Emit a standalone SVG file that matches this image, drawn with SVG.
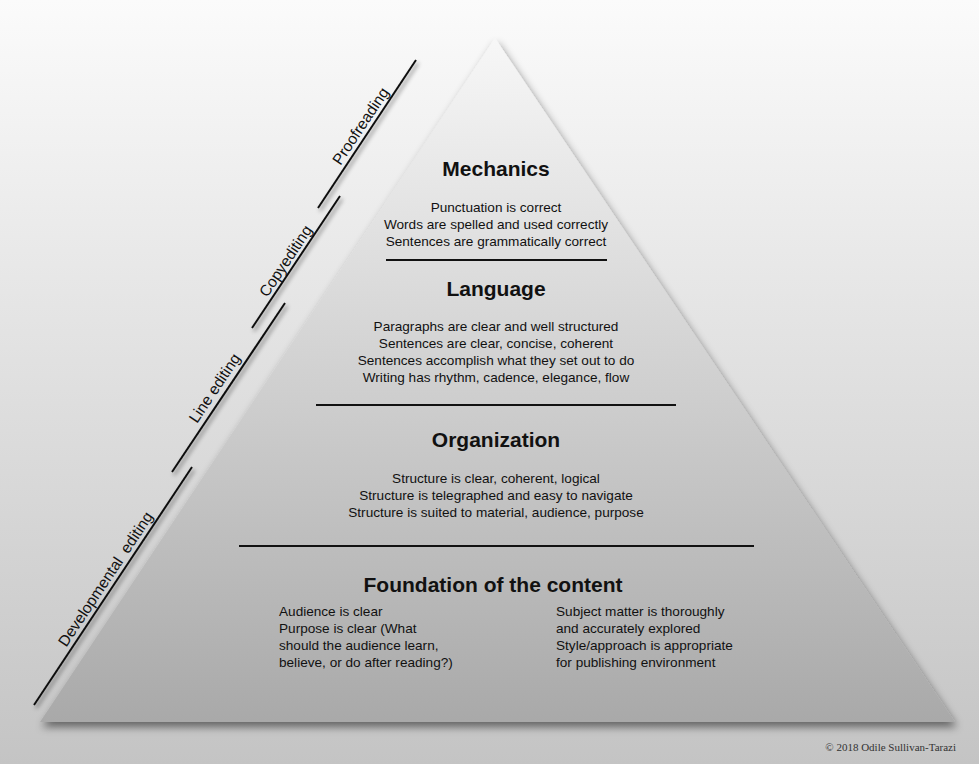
<svg xmlns="http://www.w3.org/2000/svg" width="979" height="764" viewBox="0 0 979 764">
<defs>
<linearGradient id="bg" x1="0" y1="0" x2="0" y2="1"><stop offset="0" stop-color="#fbfbfb"/><stop offset="1" stop-color="#c4c4c4"/></linearGradient>
<linearGradient id="py" x1="0" y1="0" x2="0" y2="1"><stop offset="0" stop-color="#f7f7f7"/><stop offset="1" stop-color="#a9a9a9"/></linearGradient>
<filter id="sh" x="-10%" y="-10%" width="120%" height="120%"><feGaussianBlur in="SourceAlpha" stdDeviation="4"/><feOffset dx="2" dy="5"/><feComponentTransfer><feFuncA type="linear" slope="0.5"/></feComponentTransfer><feMerge><feMergeNode/><feMergeNode in="SourceGraphic"/></feMerge></filter>
<filter id="ls" x="-20%" y="-20%" width="140%" height="140%"><feGaussianBlur in="SourceAlpha" stdDeviation="2"/><feOffset dx="2" dy="3"/><feComponentTransfer><feFuncA type="linear" slope="0.5"/></feComponentTransfer><feMerge><feMergeNode/><feMergeNode in="SourceGraphic"/></feMerge></filter>
</defs>
<style>
text{font-family:"Liberation Sans",Arial,sans-serif;fill:#111}
.h{font-size:21px;font-weight:bold;text-anchor:middle}
.b{font-size:13.6px;text-anchor:middle}
.l{font-size:13.6px}
.r{font-size:15.5px;text-anchor:middle}
.sep{stroke:#111;stroke-width:2}
.ed{stroke:#111;stroke-width:2}
</style>
<rect width="979" height="764" fill="url(#bg)"/>
<g id="pyramid"><polygon points="495,38 955,722 40,722" fill="url(#py)" filter="url(#sh)"/></g>
<g id="connectors">
<line class="sep" x1="386" y1="260" x2="607" y2="260"/>
<line class="sep" x1="316" y1="405" x2="676" y2="405"/>
<line class="sep" x1="239" y1="546" x2="754" y2="546"/>
<g filter="url(#ls)">
<line class="ed" x1="34" y1="705" x2="192" y2="467"/>
<line class="ed" x1="172" y1="472" x2="285" y2="303"/>
<line class="ed" x1="252" y1="328" x2="340" y2="196"/>
<line class="ed" x1="318" y1="208" x2="416" y2="60"/>
</g>
</g>
<g id="mechanics">
<text class="h" x="496" y="176">Mechanics</text>
<text class="b" x="496" y="212">Punctuation is correct</text>
<text class="b" x="496" y="229">Words are spelled and used correctly</text>
<text class="b" x="496" y="246">Sentences are grammatically correct</text>
</g>
<g id="language">
<text class="h" x="496" y="296">Language</text>
<text class="b" x="496" y="331">Paragraphs are clear and well structured</text>
<text class="b" x="496" y="348">Sentences are clear, concise, coherent</text>
<text class="b" x="496" y="365">Sentences accomplish what they set out to do</text>
<text class="b" x="496" y="382">Writing has rhythm, cadence, elegance, flow</text>
</g>
<g id="organization">
<text class="h" x="496" y="447">Organization</text>
<text class="b" x="496" y="483">Structure is clear, coherent, logical</text>
<text class="b" x="496" y="500">Structure is telegraphed and easy to navigate</text>
<text class="b" x="496" y="517">Structure is suited to material, audience, purpose</text>
</g>
<g id="foundation">
<text class="h" x="493" y="592">Foundation of the content</text>
<text class="l" x="279" y="616">Audience is clear</text>
<text class="l" x="279" y="633">Purpose is clear (What</text>
<text class="l" x="279" y="650">should the audience learn,</text>
<text class="l" x="279" y="667">believe, or do after reading?)</text>
<text class="l" x="556" y="616">Subject matter is thoroughly</text>
<text class="l" x="556" y="633">and accurately explored</text>
<text class="l" x="556" y="650">Style/approach is appropriate</text>
<text class="l" x="556" y="667">for publishing environment</text>
</g>
<g id="labels">
<text class="r" transform="translate(365,129) rotate(-56.4)">Proofreading</text>
<text class="r" transform="translate(290,264) rotate(-56.4)">Copyediting</text>
<text class="r" transform="translate(219,391) rotate(-56.4)">Line editing</text>
<text class="r" transform="translate(110,582) rotate(-56.4)" xml:space="preserve">Developmental  editing</text>
</g>
<text x="956" y="751" style="font-family:'Liberation Serif',serif;font-size:11px;text-anchor:end;fill:#333">© 2018 Odile Sullivan-Tarazi</text>
</svg>
